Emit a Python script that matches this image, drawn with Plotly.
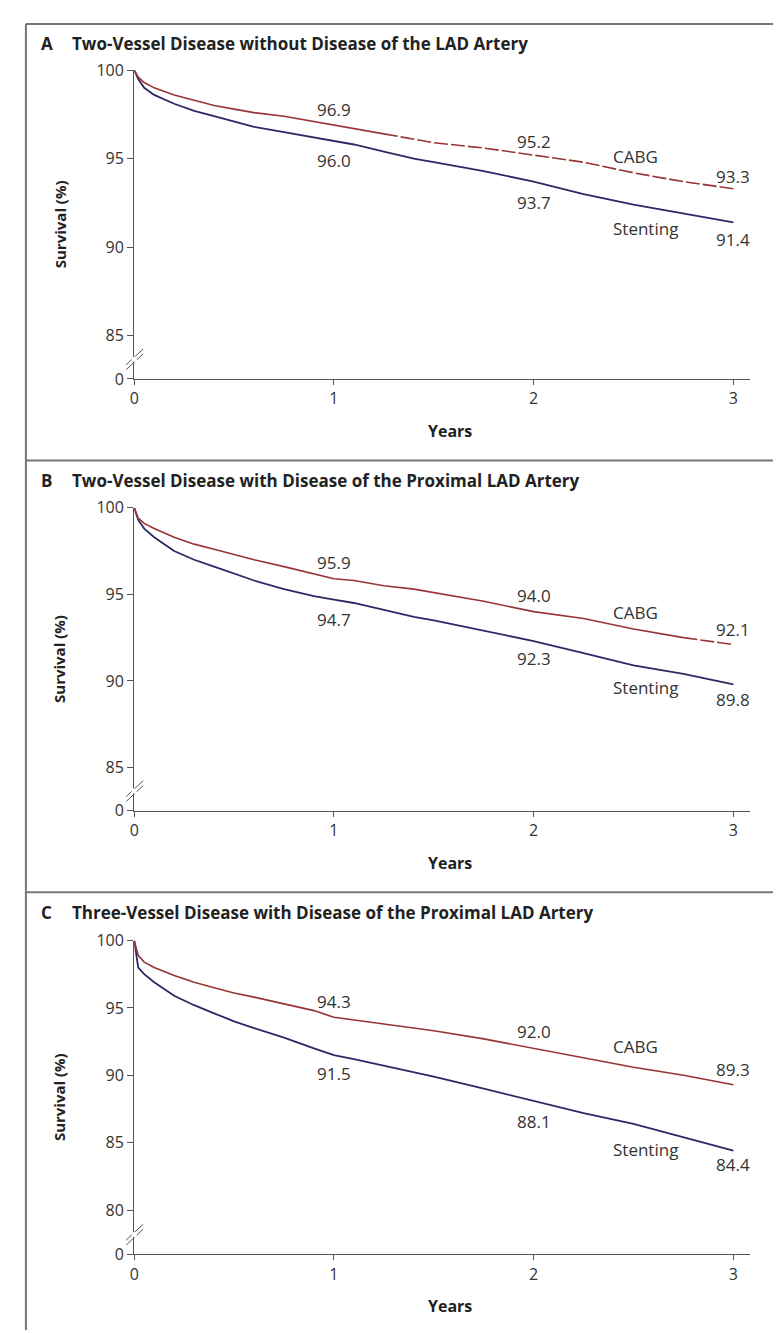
import plotly.graph_objects as go

# ---------------- data ----------------
years = [0, 0.02, 0.05, 0.1, 0.2, 0.3, 0.4, 0.5, 0.6, 0.75, 0.9, 1.0, 1.1, 1.25, 1.4, 1.5,
         1.75, 2.0, 2.25, 2.5, 2.75, 3.0]

a_cabg = [100, 99.6, 99.3, 99.0, 98.6, 98.3, 98.0, 97.8, 97.6, 97.4, 97.1, 96.9, 96.7, 96.4,
          96.1, 95.9, 95.6, 95.2, 94.8, 94.2, 93.7, 93.3]
a_stent = [100, 99.5, 99.0, 98.6, 98.1, 97.7, 97.4, 97.1, 96.8, 96.5, 96.2, 96.0, 95.8, 95.4,
           95.0, 94.8, 94.3, 93.7, 93.0, 92.4, 91.9, 91.4]

b_cabg = [100, 99.4, 99.1, 98.8, 98.3, 97.9, 97.6, 97.3, 97.0, 96.6, 96.2, 95.9, 95.8, 95.5,
          95.3, 95.1, 94.6, 94.0, 93.6, 93.0, 92.5, 92.1]
b_stent = [100, 99.3, 98.8, 98.3, 97.5, 97.0, 96.6, 96.2, 95.8, 95.3, 94.9, 94.7, 94.5, 94.1,
           93.7, 93.5, 92.9, 92.3, 91.6, 90.9, 90.4, 89.8]

c_cabg = [100, 98.9, 98.4, 98.0, 97.4, 96.9, 96.5, 96.1, 95.8, 95.3, 94.8, 94.3, 94.1, 93.8,
          93.5, 93.3, 92.7, 92.0, 91.3, 90.6, 90.0, 89.3]
c_stent = [100, 98.0, 97.5, 96.9, 95.9, 95.2, 94.6, 94.0, 93.5, 92.8, 92.0, 91.5, 91.2, 90.7,
           90.2, 89.9, 89.0, 88.1, 87.2, 86.4, 85.4, 84.4]

panel_letters = ["A", "B", "C"]
panel_titles = ["Two-Vessel Disease without Disease of the LAD Artery",
                "Two-Vessel Disease with Disease of the Proximal LAD Artery",
                "Three-Vessel Disease with Disease of the Proximal LAD Artery"]
y_ticks = [[85, 90, 95, 100], [85, 90, 95, 100], [80, 85, 90, 95, 100]]
x_ticks = [0, 1, 2, 3]

# value labels: (text, year, y-position in data units)
value_labels = [
    [("96.9", 1, 97.75), ("96.0", 1, 94.9), ("95.2", 2, 95.95), ("93.7", 2, 92.55),
     ("93.3", 3, 94.0), ("91.4", 3, 90.45)],
    [("95.9", 1, 96.85), ("94.7", 1, 93.55), ("94.0", 2, 94.95), ("92.3", 2, 91.3),
     ("92.1", 3, 92.95), ("89.8", 3, 88.95)],
    [("94.3", 1, 95.5), ("91.5", 1, 90.1), ("92.0", 2, 93.25), ("88.1", 2, 86.6),
     ("89.3", 3, 90.4), ("84.4", 3, 83.4)],
]
series_labels = [
    [("CABG", 2.51, 95.1), ("Stenting", 2.56, 91.05)],
    [("CABG", 2.51, 93.95), ("Stenting", 2.56, 89.6)],
    [("CABG", 2.51, 92.1), ("Stenting", 2.56, 84.5)],
]

# ---------------- layout / style ----------------
W, H = 781, 1333
CABG_COLOR = "#983434"
STENT_COLOR = "#2b2966"
AXIS_COLOR = "#555555"
TEXT_COLOR = "#333333"
FONT = "Open Sans"

X0_PX, X1_PX = 122, 742          # x-axis domain in pixels
PX_PER_YEAR = 201
# per panel: pixel of 100 tick, pixel of the "0" baseline, px per survival unit
panel_px = [(52, 366, 18.0), (497, 805, 17.6), (937, 1256, 13.7)]
panel_top = [5, 449, 888]
dash_start = [1.3, 2.75, None]   # year where the CABG line becomes dashed


def px_y(p):
    return 1 - p / H


def px_x(p):
    return p / W


fig = go.Figure()
curves = [(a_cabg, a_stent), (b_cabg, b_stent), (c_cabg, c_stent)]
annotations = []
shapes = []

for i in range(3):
    top, base, ppu = panel_px[i]
    ymin = 100 - (base - top) / ppu
    xa = "x" if i == 0 else f"x{i+1}"
    ya = "y" if i == 0 else f"y{i+1}"
    cabg, stent = curves[i]

    # stenting
    fig.add_trace(go.Scatter(x=years, y=stent, mode="lines", xaxis=xa, yaxis=ya,
                             line=dict(color=STENT_COLOR, width=1.8),
                             showlegend=False, cliponaxis=False))
    # cabg (solid + dashed tail)
    ds = dash_start[i]
    if ds is None:
        fig.add_trace(go.Scatter(x=years, y=cabg, mode="lines", xaxis=xa, yaxis=ya,
                                 line=dict(color=CABG_COLOR, width=1.6),
                                 showlegend=False, cliponaxis=False))
    else:
        xs = [t for t in years if t <= ds]
        ys = cabg[:len(xs)]
        xd = years[len(xs) - 1:]
        yd = cabg[len(xs) - 1:]
        fig.add_trace(go.Scatter(x=xs, y=ys, mode="lines", xaxis=xa, yaxis=ya,
                                 line=dict(color=CABG_COLOR, width=1.6),
                                 showlegend=False, cliponaxis=False))
        fig.add_trace(go.Scatter(x=xd, y=yd, mode="lines", xaxis=xa, yaxis=ya,
                                 line=dict(color=CABG_COLOR, width=1.6, dash="14px,3px"),
                                 showlegend=False, cliponaxis=False))

    xkey = "xaxis" if i == 0 else f"xaxis{i+1}"
    ykey = "yaxis" if i == 0 else f"yaxis{i+1}"
    fig.layout[xkey] = dict(
        domain=[px_x(X0_PX), px_x(X1_PX)], range=[0, (X1_PX - X0_PX) / PX_PER_YEAR],
        anchor=ya, showline=True, linecolor=AXIS_COLOR, linewidth=1.2,
        tickvals=x_ticks, ticks="outside", ticklen=5, tickcolor=AXIS_COLOR,
        showgrid=False, zeroline=False,
        tickfont=dict(family=FONT, size=16, color=TEXT_COLOR))
    fig.layout[ykey] = dict(
        domain=[px_y(base), px_y(top)], range=[ymin, 100],
        anchor=xa, showline=True, linecolor=AXIS_COLOR, linewidth=1.2,
        tickvals=[ymin] + y_ticks[i], ticktext=["0"] + [str(v) for v in y_ticks[i]],
        ticks="outside", ticklen=6, tickcolor=AXIS_COLOR,
        showgrid=False, zeroline=False,
        tickfont=dict(family=FONT, size=16, color=TEXT_COLOR))

    # titles
    ptop = panel_top[i]
    annotations.append(dict(text=f"<b>{panel_letters[i]}</b>", x=px_x(26), y=px_y(ptop + 20),
                            xref="paper", yref="paper", xanchor="left", yanchor="middle",
                            showarrow=False, font=dict(family=FONT, size=17, color="#222")))
    annotations.append(dict(text=f"<b>{panel_titles[i]}</b>", x=px_x(57), y=px_y(ptop + 20),
                            xref="paper", yref="paper", xanchor="left", yanchor="middle",
                            showarrow=False, font=dict(family=FONT, size=17, color="#222")))
    # axis titles
    annotations.append(dict(text="<b>Survival (%)</b>", x=px_x(47), y=px_y((top + base) / 2),
                            xref="paper", yref="paper", textangle=-90, showarrow=False,
                            xanchor="center", yanchor="middle",
                            font=dict(family=FONT, size=15, color="#222")))
    annotations.append(dict(text="<b>Years</b>", x=px_x(440), y=px_y(base + 53),
                            xref="paper", yref="paper", showarrow=False,
                            xanchor="center", yanchor="middle",
                            font=dict(family=FONT, size=16, color="#222")))
    for txt, xv, yv in value_labels[i] + series_labels[i]:
        annotations.append(dict(text=txt, x=xv, y=yv, xref=xa, yref=ya, showarrow=False,
                                xanchor="center", yanchor="middle",
                                font=dict(family=FONT, size=17, color=TEXT_COLOR)))
    # axis break marks
    brk = base - 20
    for off in (-2.5, 2.5):
        shapes.append(dict(type="line", xref="paper", yref="paper",
                           x0=px_x(114), y0=px_y(brk + 8 + off), x1=px_x(131), y1=px_y(brk - 8 + off),
                           line=dict(color=AXIS_COLOR, width=1)))
    shapes.append(dict(type="rect", xref="paper", yref="paper",
                       x0=px_x(119.5), y0=px_y(brk + 2.5), x1=px_x(124.5), y1=px_y(brk - 2.5),
                       fillcolor="white", line=dict(width=0), layer="above"))

# panel frames
for ptop in panel_top:
    shapes.append(dict(type="line", xref="paper", yref="paper", x0=px_x(13), x1=1,
                       y0=px_y(ptop), y1=px_y(ptop), line=dict(color="#777", width=2)))
shapes.append(dict(type="line", xref="paper", yref="paper", x0=px_x(13), x1=px_x(13),
                   y0=0, y1=px_y(5), line=dict(color="#777", width=2)))

fig.update_layout(width=W, height=H, margin=dict(l=0, r=0, t=0, b=0),
                  paper_bgcolor="white", plot_bgcolor="white",
                  annotations=annotations, shapes=shapes, showlegend=False)

fig.write_html("out.html")
